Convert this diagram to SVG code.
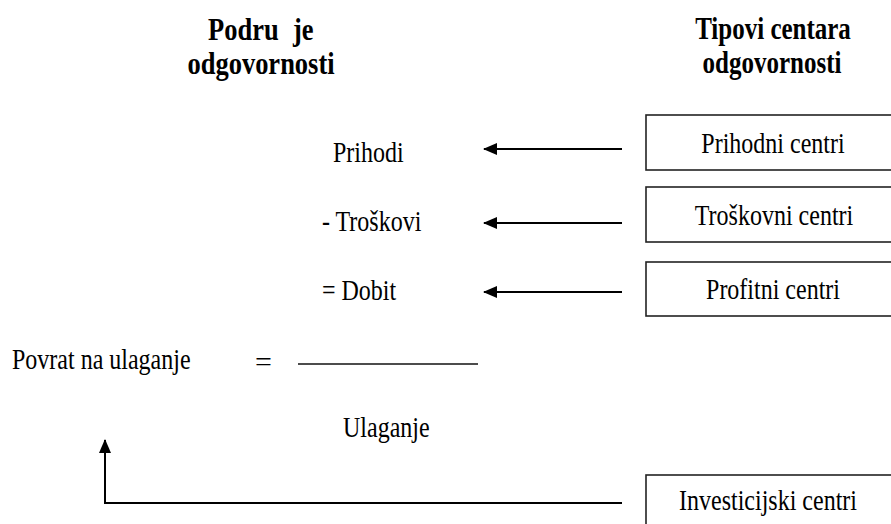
<svg xmlns="http://www.w3.org/2000/svg" width="891" height="524" viewBox="0 0 891 524">
<defs>
<style>
.t{font-family:"Liberation Serif","Times New Roman",serif;font-size:24px;fill:#000}
.h{font-family:"Liberation Serif","Times New Roman",serif;font-size:25px;font-weight:bold;fill:#000}
.hl{font-size:26.5px}
.box{fill:#fff;stroke:#222;stroke-width:1.6}
.ln{stroke:#000;stroke-width:2;fill:none}
</style>
<marker id="ah" viewBox="0 0 14 12" refX="13" refY="6" markerWidth="14" markerHeight="12" markerUnits="userSpaceOnUse" orient="auto">
<path d="M0,0 L14,6 L0,12 Z" fill="#000"/>
</marker>
</defs>
<rect width="891" height="524" fill="#fff"/>
<g id="headers">
<text class="h hl" transform="translate(0,40) scale(1,1.22)"><tspan x="208">Podru</tspan><tspan x="293">je</tspan></text>
<text class="h hl" transform="translate(261,74) scale(1,1.22)" text-anchor="middle">odgovornosti</text>
<text class="h" transform="translate(773,39) scale(1,1.25)" text-anchor="middle">Tipovi centara</text>
<text class="h" transform="translate(772,73) scale(1,1.25)" text-anchor="middle">odgovornosti</text>
</g>
<g id="formula">
<text class="t" transform="translate(333,162) scale(1,1.25)">Prihodi</text>
<text class="t" transform="translate(322,231) scale(1,1.25)">- Troškovi</text>
<text class="t" transform="translate(322,300) scale(1,1.25)">= Dobit</text>
<text class="t" transform="translate(12,369) scale(1,1.25)">Povrat na ulaganje</text>
<text class="t" transform="translate(255,371) scale(1.25,1.1)">=</text>
<line x1="298" y1="364" x2="478" y2="364" stroke="#111" stroke-width="1.6"/>
<text class="t" transform="translate(343,437) scale(1,1.25)">Ulaganje</text>
</g>
<g id="prihodni">
<rect class="box" x="646" y="115" width="260" height="55"/>
<text class="t" transform="translate(773,153) scale(1,1.25)" text-anchor="middle">Prihodni centri</text>
</g>
<g id="troskovni">
<rect class="box" x="646" y="187" width="260" height="55"/>
<text class="t" transform="translate(774,225) scale(1,1.25)" text-anchor="middle">Troškovni centri</text>
</g>
<g id="profitni">
<rect class="box" x="646" y="262" width="260" height="54"/>
<text class="t" transform="translate(773,299) scale(1,1.25)" text-anchor="middle">Profitni centri</text>
</g>
<g id="investicijski">
<rect class="box" x="646" y="475" width="260" height="60"/>
<text class="t" transform="translate(768,510) scale(1,1.25)" text-anchor="middle">Investicijski centri</text>
</g>
<g id="connectors">
<line class="ln" x1="622" y1="149" x2="484" y2="149" marker-end="url(#ah)"/>
<line class="ln" x1="622" y1="223" x2="484" y2="223" marker-end="url(#ah)"/>
<line class="ln" x1="622" y1="292" x2="484" y2="292" marker-end="url(#ah)"/>
<polyline class="ln" points="622,503 105,503 105,440" marker-end="url(#ah)"/>
</g>
</svg>
